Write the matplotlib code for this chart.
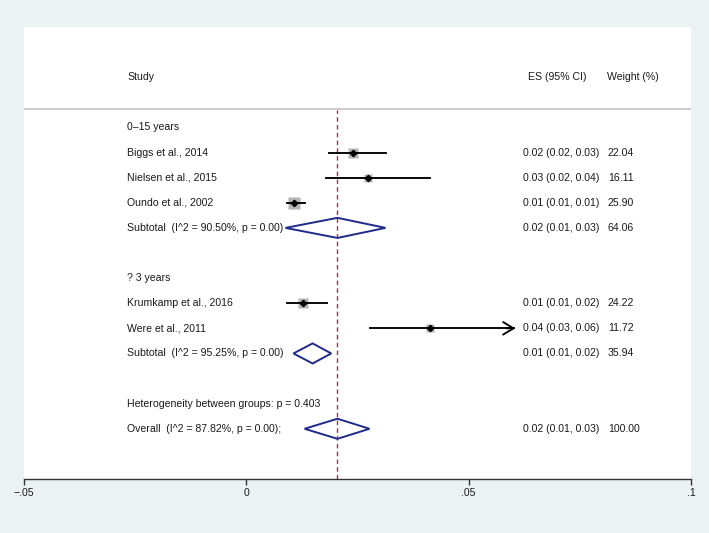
import matplotlib
matplotlib.use("Agg")
import matplotlib.pyplot as plt
from matplotlib.patches import Polygon

plt.rcParams['font.family'] = ['Liberation Sans', 'DejaVu Sans']

# ---- data ----
groups = ["0\u201315 years", "? 3 years"]
studies = ["Biggs et al., 2014", "Nielsen et al., 2015", "Oundo et al., 2002",
           "Krumkamp et al., 2016", "Were et al., 2011"]
study_group = [0, 0, 0, 1, 1]
es = [0.0241, 0.0273, 0.0108, 0.0128, 0.0412]
lo = [0.0187, 0.0180, 0.0092, 0.0092, 0.0277]
hi = [0.0315, 0.0412, 0.0133, 0.0182, 0.0605]
weights = [22.04, 16.11, 25.90, 24.22, 11.72]
es_text = ["0.02 (0.02, 0.03)", "0.03 (0.02, 0.04)", "0.01 (0.01, 0.01)",
           "0.01 (0.01, 0.02)", "0.04 (0.03, 0.06)"]
weight_text = ["22.04", "16.11", "25.90", "24.22", "11.72"]
arrow_right = [False, False, False, False, True]

sub_labels = ["Subtotal  (I^2 = 90.50%, p = 0.00)", "Subtotal  (I^2 = 95.25%, p = 0.00)"]
sub_es = [0.0205, 0.0149]
sub_lo = [0.0088, 0.0106]
sub_hi = [0.0313, 0.0191]
sub_es_text = ["0.02 (0.01, 0.03)", "0.01 (0.01, 0.02)"]
sub_weight_text = ["64.06", "35.94"]

het_label = "Heterogeneity between groups: p = 0.403"
overall_label = "Overall  (I^2 = 87.82%, p = 0.00);"
overall_es = 0.0205
overall_lo = 0.0131
overall_hi = 0.0277
overall_es_text = "0.02 (0.01, 0.03)"
overall_weight_text = "100.00"

xticks = [-0.05, 0, 0.05, 0.1]
xtick_labels = ["\u2212.05", "0", ".05", ".1"]

# ---- layout ----
bg = '#eaf2f3'
txt = '#1a1a1a'
navy = '#1f2a8a'
fs = 7.6
x_label = -0.0268
x_es = 0.0622
x_wt = 0.0813

fig = plt.figure(figsize=(7.09, 5.33), dpi=100, facecolor=bg)
W, H = 709, 533
ax = fig.add_axes([24 / W, (H - 479) / H, (691 - 24) / W, (479 - 27) / H])
ax.set_facecolor('white')
ax.set_xlim(-0.05, 0.1)
ax.set_ylim(0, 18)

# header
ax.text(x_label, 16, "Study", fontsize=fs, color=txt, va='center', ha='left')
ax.text(0.0633, 16, "ES (95% CI)", fontsize=fs, color=txt, va='center', ha='left')
ax.text(0.0811, 16, "Weight (%)", fontsize=fs, color=txt, va='center', ha='left')
ax.axhline(14.74, color='#c4c4c4', lw=1.2)

# reference line
ax.plot([overall_es, overall_es], [0, 14.7], color='#a8323e', lw=1.0,
        dashes=(3.2, 2.4), zorder=1)

def diamond(y, l, c, h):
    poly = Polygon([(l, y), (c, y + 0.4), (h, y), (c, y - 0.4)], closed=True,
                   fill=False, edgecolor=navy, lw=1.4, zorder=3)
    ax.add_patch(poly)

y = 14
for g, gname in enumerate(groups):
    ax.text(x_label, y, gname, fontsize=fs, color=txt, va='center', ha='left')
    y -= 1
    for i in range(len(studies)):
        if study_group[i] != g:
            continue
        ax.text(x_label, y, studies[i], fontsize=fs, color=txt, va='center', ha='left')
        side = 2.2 * (weights[i] ** 0.5) * 0.72
        ax.plot(es[i], y, marker='s', ms=side, color='#b4b4b4', mec='none', zorder=2)
        if arrow_right[i]:
            ax.plot([lo[i], hi[i] - 0.0003], [y, y], color='black', lw=1.35, zorder=3)
            ax.annotate("", xy=(hi[i], y), xytext=(hi[i] - 0.002, y),
                        arrowprops=dict(arrowstyle='->,head_length=0.75,head_width=0.45',
                                        color='black', lw=1.35, shrinkA=0, shrinkB=0),
                        zorder=3)
        else:
            ax.plot([lo[i], hi[i]], [y, y], color='black', lw=1.35, zorder=3)
        ax.plot(es[i], y, marker='D', ms=3.2, color='black', zorder=4)
        ax.text(x_es, y, es_text[i], fontsize=fs, color=txt, va='center', ha='left')
        ax.text(x_wt, y, weight_text[i], fontsize=fs, color=txt, va='center', ha='left')
        y -= 1
    ax.text(x_label, y, sub_labels[g], fontsize=fs, color=txt, va='center', ha='left')
    diamond(y, sub_lo[g], sub_es[g], sub_hi[g])
    ax.text(x_es, y, sub_es_text[g], fontsize=fs, color=txt, va='center', ha='left')
    ax.text(x_wt, y, sub_weight_text[g], fontsize=fs, color=txt, va='center', ha='left')
    y -= 2

ax.text(x_label, 3, het_label, fontsize=fs, color=txt, va='center', ha='left')
ax.text(x_label, 2, overall_label, fontsize=fs, color=txt, va='center', ha='left')
diamond(2, overall_lo, overall_es, overall_hi)
ax.text(x_es, 2, overall_es_text, fontsize=fs, color=txt, va='center', ha='left')
ax.text(x_wt, 2, overall_weight_text, fontsize=fs, color=txt, va='center', ha='left')

# axes styling
for s in ['top', 'left', 'right']:
    ax.spines[s].set_visible(False)
ax.spines['bottom'].set_color('#333333')
ax.spines['bottom'].set_linewidth(1.0)
ax.set_yticks([])
ax.set_xticks(xticks)
ax.set_xticklabels(xtick_labels)
ax.tick_params(axis='x', direction='out', length=4.5, width=1.0, color='#333333',
               labelsize=fs, labelcolor=txt, pad=2)

fig.savefig("out.png", dpi=100, facecolor=bg)
